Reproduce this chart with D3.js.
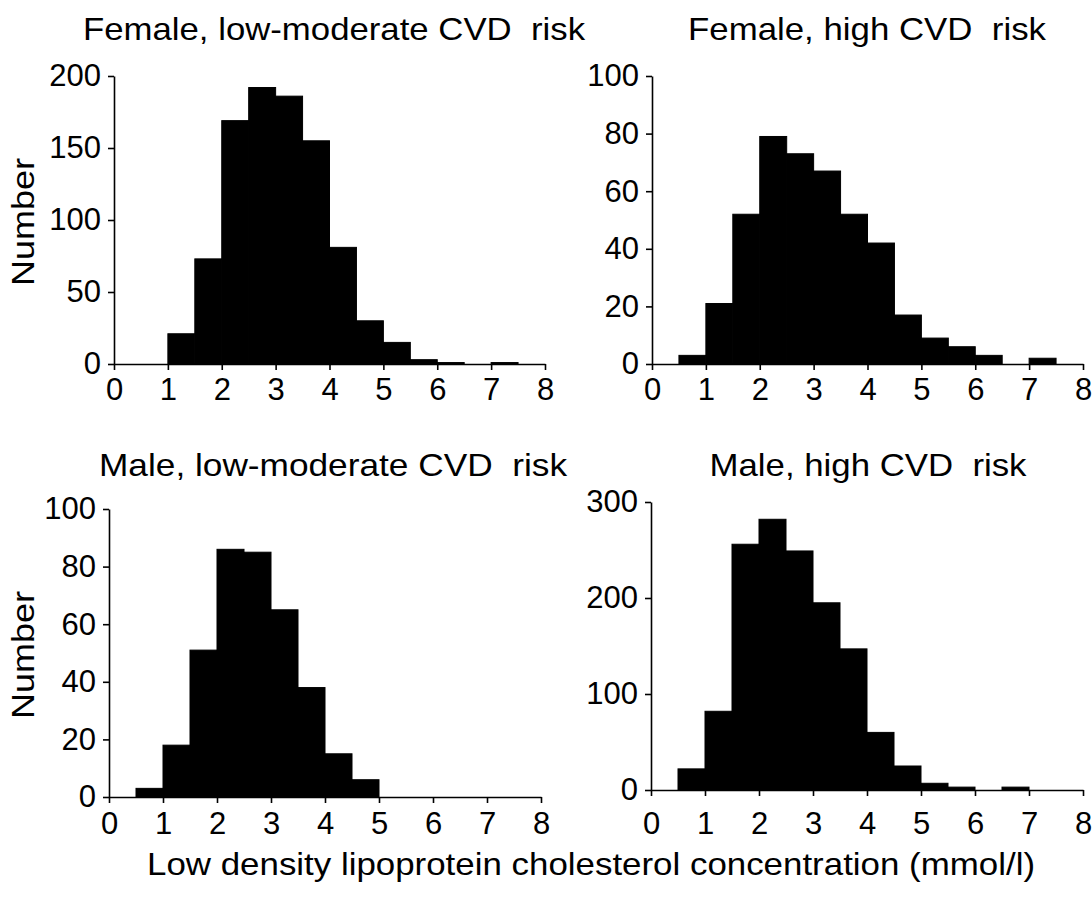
<!DOCTYPE html>
<html>
<head>
<meta charset="utf-8">
<script src="https://cdn.jsdelivr.net/npm/d3@7"></script>
<style>
  html, body { margin: 0; padding: 0; background: #fff; }
  svg text { font-family: "Liberation Sans", Arial, sans-serif; fill: #000; }
</style>
</head>
<body>
<svg id="chart" width="1092" height="908"></svg>
<script>
// Lower edges of the 0.5 mmol/l bins
const binStarts = [0, 0.5, 1, 1.5, 2, 2.5, 3, 3.5, 4, 4.5, 5, 5.5, 6, 6.5, 7, 7.5];
const binWidth = 0.5;

// Counts per bin for each group
const femaleLowMod = [0, 0, 21, 73, 169, 192, 186, 155, 81, 30, 15, 3, 1, 0, 1, 0];
const femaleHigh   = [0, 3, 21, 52, 79, 73, 67, 52, 42, 17, 9, 6, 3, 0, 2, 0];
const maleLowMod   = [0, 3, 18, 51, 86, 85, 65, 38, 15, 6, 0, 0, 0, 0, 0, 0];
const maleHigh     = [0, 22, 82, 256, 282, 249, 195, 147, 60, 25, 7, 3, 0, 3, 0, 0];

// Panel titles and tick labels
const titles = [
  "Female, low-moderate CVD  risk",
  "Female, high CVD  risk",
  "Male, low-moderate CVD  risk",
  "Male, high CVD  risk"
];
const xTicks = [0, 1, 2, 3, 4, 5, 6, 7, 8];
const yTicksFemaleLowMod = [0, 50, 100, 150, 200];
const yTicksFemaleHigh = [0, 20, 40, 60, 80, 100];
const yTicksMaleLowMod = [0, 20, 40, 60, 80, 100];
const yTicksMaleHigh = [0, 100, 200, 300];

const yLabel = "Number";
const xLabel = "Low density lipoprotein cholesterol concentration (mmol/l)";

const svg = d3.select("#chart");

// Panel geometry
const panels = [
  { values: femaleLowMod, yTicks: yTicksFemaleLowMod, title: titles[0],
    left: 114, right: 545, top: 76, bottom: 364, titleX: 334, titleY: 40, titleW: 502, pad: 8, yLab: true },
  { values: femaleHigh, yTicks: yTicksFemaleHigh, title: titles[1],
    left: 652, right: 1083, top: 76, bottom: 364, titleX: 867, titleY: 40, titleW: 358, pad: 8, yLab: false },
  { values: maleLowMod, yTicks: yTicksMaleLowMod, title: titles[2],
    left: 109, right: 541, top: 509, bottom: 797, titleX: 333, titleY: 476, titleW: 468, pad: 9, yLab: true },
  { values: maleHigh, yTicks: yTicksMaleHigh, title: titles[3],
    left: 651, right: 1083, top: 502, bottom: 790, titleX: 868, titleY: 476, titleW: 317, pad: 16, yLab: false }
];

panels.forEach(p => {
  const x = d3.scaleLinear().domain([0, 8]).range([p.left, p.right]);
  const yMax = p.yTicks[p.yTicks.length - 1];
  const y = d3.scaleLinear().domain([0, yMax]).range([p.bottom, p.top]);

  const g = svg.append("g");

  // Histogram bars
  const bins = binStarts.map((b, i) => ({ x0: b, x1: b + binWidth, n: p.values[i] }))
    .filter(d => d.n > 0);
  g.selectAll("rect.bar").data(bins).join("rect")
    .attr("class", "bar")
    .attr("x", d => x(d.x0))
    .attr("width", d => x(d.x1) - x(d.x0))
    .attr("y", d => y(d.n))
    .attr("height", d => y(0) - y(d.n))
    .attr("fill", "#000")
    .attr("stroke", "#000")
    .attr("stroke-width", 1);

  // Axes
  const xAxis = d3.axisBottom(x).tickValues(xTicks).tickFormat(d3.format("d"))
    .tickSize(6).tickSizeOuter(0).tickPadding(p.pad);
  const gx = g.append("g").attr("transform", `translate(0,${p.bottom})`).call(xAxis);

  const yAxis = d3.axisLeft(y).tickValues(p.yTicks).tickFormat(d3.format("d"))
    .tickSize(6).tickSizeOuter(0).tickPadding(7);
  const gy = g.append("g").attr("transform", `translate(${p.left},0)`).call(yAxis);

  [gx, gy].forEach(a => {
    a.select(".domain").attr("stroke", "#000").attr("stroke-width", 1.6);
    a.selectAll(".tick line").attr("stroke", "#000").attr("stroke-width", 1.6);
    a.selectAll(".tick text").attr("font-size", 31)
      .attr("font-family", "'Liberation Sans', Arial, sans-serif");
  });

  // Panel title
  g.append("text")
    .attr("x", p.titleX).attr("y", p.titleY)
    .attr("text-anchor", "middle")
    .attr("font-size", 32)
    .style("white-space", "pre")
    .attr("textLength", p.titleW)
    .attr("lengthAdjust", "spacingAndGlyphs")
    .text(p.title);

  if (p.yLab) {
    const cy = (p.top + p.bottom) / 2 + 2;
    g.append("text")
      .attr("transform", `translate(34,${cy}) rotate(-90)`)
      .attr("text-anchor", "middle")
      .attr("font-size", 32)
      .attr("textLength", 128)
      .attr("lengthAdjust", "spacingAndGlyphs")
      .text(yLabel);
  }
});

// Shared x-axis title
svg.append("text")
  .attr("x", 591).attr("y", 875)
  .attr("text-anchor", "middle")
  .attr("font-size", 32)
  .attr("textLength", 888)
  .attr("lengthAdjust", "spacingAndGlyphs")
  .text(xLabel);
</script>
</body>
</html>
